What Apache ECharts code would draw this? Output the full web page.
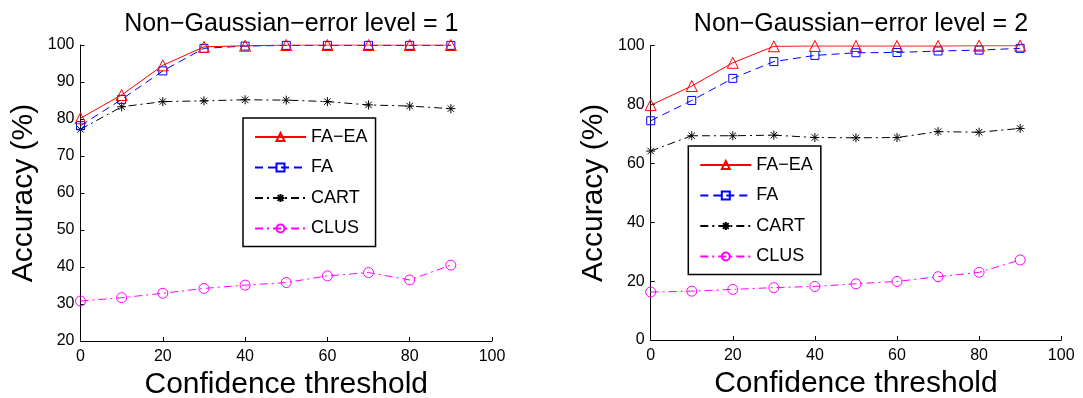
<!DOCTYPE html>
<html><head><meta charset="utf-8">
<script src="https://cdn.jsdelivr.net/npm/echarts@6/dist/echarts.min.js"></script>
<style>html,body{margin:0;padding:0;background:#fff}#c{width:1083px;height:398px}</style>
</head><body><div id="c"></div>
<script>
const thresholds = [0, 10, 20, 30, 40, 50, 60, 70, 80, 90];
const seriesNames = ['FA−EA', 'FA', 'CART', 'CLUS'];
const titles = ['Non−Gaussian−error level = 1', 'Non−Gaussian−error level = 2'];
const xName = 'Confidence threshold';
const yName = 'Accuracy (%)';

// level 1
const faea1 = [80.2, 86.5, 94.5, 99.5, 99.8, 100, 100, 100, 100, 100];
const fa1   = [78.2, 85.3, 93.0, 99.1, 99.7, 99.9, 99.9, 99.9, 99.9, 99.9];
const cart1 = [77.2, 83.3, 84.7, 84.9, 85.2, 85.1, 84.7, 83.8, 83.5, 82.8];
const clus1 = [30.8, 31.7, 32.9, 34.2, 35.1, 35.8, 37.6, 38.5, 36.5, 40.5];
// level 2
const faea2 = [79.8, 86.3, 94.2, 99.8, 99.9, 99.9, 99.9, 99.9, 100, 100];
const fa2   = [74.5, 81.4, 88.9, 94.6, 96.7, 97.6, 97.7, 98.2, 98.5, 99.1];
const cart2 = [64.2, 69.4, 69.4, 69.6, 68.8, 68.7, 68.8, 70.8, 70.6, 71.9];
const clus2 = [16.3, 16.6, 17.2, 17.8, 18.2, 19.1, 19.9, 21.5, 23.0, 27.2];

const FONT = 'Liberation Sans, Arial, Helvetica, sans-serif';
const asterisk = 'path://M0,-1L0,1M-1,0L1,0M-0.72,-0.72L0.72,0.72M-0.72,0.72L0.72,-0.72';

const styles = [
  {color: '#ff0000', type: 'solid', symbol: 'triangle', size: 11},
  {color: '#0000ff', type: [8, 5], symbol: 'rect', size: 8},
  {color: '#000000', type: [8, 4, 2, 4], symbol: asterisk, size: 9},
  {color: '#ff00ff', type: [8, 4, 2, 4], symbol: 'circle', size: 10}
];

function pair(xs, ys) { return xs.map((x, i) => [x, ys[i]]); }

function mkSeries(data, gi) {
  return data.map((d, i) => ({
    name: seriesNames[i], type: 'line', xAxisIndex: gi, yAxisIndex: gi,
    data: pair(thresholds, d), symbol: styles[i].symbol, symbolSize: styles[i].size,
    showAllSymbol: true, animation: false, z: 10 - i,
    lineStyle: {color: styles[i].color, width: 1, type: styles[i].type},
    itemStyle: {color: 'rgba(0,0,0,0)', borderColor: styles[i].color, borderWidth: 1},
    emphasis: {disabled: true}
  }));
}

const grids = [
  {left: 80.5, top: 45, width: 411.5, height: 296, outerBoundsMode: 'none', containLabel: false},
  {left: 650.7, top: 45.7, width: 410.5, height: 294.3, outerBoundsMode: 'none', containLabel: false}
];
const yRanges = [[20, 100, 10], [0, 100, 20]];

const axisCommon = {
  axisLine: {lineStyle: {color: '#000', width: 1}},
  axisTick: {inside: true, length: 4, lineStyle: {color: '#000'}},
  splitLine: {show: false},
  axisLabel: {color: '#000', fontSize: 16, fontFamily: FONT},
  nameTextStyle: {color: '#000', fontSize: 30, fontFamily: FONT},
  nameLocation: 'middle'
};

const option = {
  backgroundColor: '#fff',
  animation: false,
  title: titles.map((t, i) => ({
    text: t, left: grids[i].left + grids[i].width / 2, top: 7, textAlign: 'center',
    textStyle: {fontSize: 25, fontWeight: 'normal', color: '#000', fontFamily: FONT}
  })),
  legend: [
    {left: 243, top: 118}, {left: 688.3, top: 146}
  ].map((p, i) => ({
    left: p.left, top: p.top, orient: 'vertical',
    data: seriesNames.map((n, k) => ({name: n})),
    itemWidth: 51, itemHeight: 10, itemGap: 12.5,
    borderColor: '#000', borderWidth: 1.5, borderRadius: 0,
    padding: [10, 8, 9, 11], backgroundColor: '#fff',
    textStyle: {fontSize: 18, lineHeight: 18, color: '#000', fontFamily: FONT},
    selectedMode: false
  })),
  grid: grids,
  xAxis: grids.map((g, i) => Object.assign({}, axisCommon, {
    type: 'value', gridIndex: i, min: 0, max: 100, interval: 20,
    name: xName, nameGap: 28,
    axisLabel: Object.assign({}, axisCommon.axisLabel, {margin: 8})
  })),
  yAxis: grids.map((g, i) => Object.assign({}, axisCommon, {
    type: 'value', gridIndex: i, min: yRanges[i][0], max: yRanges[i][1], interval: yRanges[i][2],
    name: yName, nameGap: 42,
    axisLabel: Object.assign({}, axisCommon.axisLabel, {margin: 6})
  })),
  series: [].concat(mkSeries([faea1, fa1, cart1, clus1], 0), mkSeries([faea2, fa2, cart2, clus2], 1))
};
const chart = echarts.init(document.getElementById('c'), null, {renderer: 'canvas'});
chart.setOption(option);
</script></body></html>
